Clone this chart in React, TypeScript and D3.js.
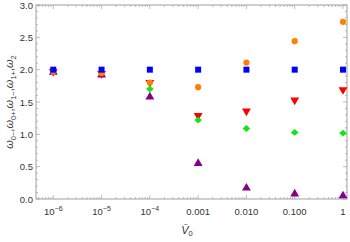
import React from "react";
import * as d3 from "d3";

const xVals = [1e-6, 1e-5, 1e-4, 1e-3, 1e-2, 1e-1, 1];
const xTickLabels = ["10^-6", "10^-5", "10^-4", "0.001", "0.010", "0.100", "1"];
const yTicks = [0, 0.5, 1.0, 1.5, 2.0, 2.5, 3.0];

const purple = [1.96, 1.92, 1.58, 0.55, 0.17, 0.08, 0.05];
const red = [1.97, 1.94, 1.8, 1.29, 1.36, 1.53, 1.69];
const green = [1.97, 1.95, 1.7, 1.22, 1.09, 1.03, 1.02];
const orange = [1.97, 1.95, 1.8, 1.73, 2.11, 2.44, 2.74];
const blue = [2.0, 2.0, 2.0, 2.0, 2.0, 2.0, 2.0];

const W = 350, H = 242;
const L = 36, R = 347, T = 5, B = 199;

export default function App() {
  const x = d3.scaleLog().domain([Math.pow(10, -6.358), Math.pow(10, 0.083)]).range([L, R]);
  const y = d3.scaleLinear().domain([0, 3]).range([B, T]);
  const frame = "#a0a0a0";
  const txt = "#333";
  const font = "Liberation Sans, Arial, sans-serif";

  const minorX: number[] = [];
  for (let e = -7; e <= 0; e++) {
    for (let k = 1; k <= 9; k++) {
      const v = k * Math.pow(10, e);
      if (v >= x.domain()[0] && v <= x.domain()[1]) minorX.push(v);
    }
  }
  const minorY = d3.range(0, 31).map((i) => i / 10);

  const sym = (type: d3.SymbolType, size: number) => d3.symbol().type(type).size(size)() as string;
  const diamond = "M0,-3.4L3.8,0L0,3.4L-3.8,0Z";
  const series = [
    { data: purple, color: "#880088", path: sym(d3.symbolTriangle, 34), rot: 0 },
    { data: red, color: "#ff0000", path: sym(d3.symbolTriangle, 34), rot: 180 },
    { data: green, color: "#11e611", path: diamond, rot: 0 },
    { data: orange, color: "#ff8000", path: sym(d3.symbolCircle, 30), rot: 0 },
    { data: blue, color: "#0000ff", path: sym(d3.symbolSquare, 36), rot: 0 },
  ];

  return (
    <svg width={W} height={H} style={{ position: "absolute", left: 0, top: 0 }}>
      <rect x={0} y={0} width={W} height={H} fill="white" />
      {minorX.map((v, i) => {
        const isMajor = Math.abs(Math.log10(v) - Math.round(Math.log10(v))) < 1e-9;
        const len = isMajor ? 4 : 2;
        return (
          <g key={"mx" + i} stroke={frame} strokeWidth={0.7}>
            <line x1={x(v)} x2={x(v)} y1={B} y2={B - len} />
            <line x1={x(v)} x2={x(v)} y1={T} y2={T + len} />
          </g>
        );
      })}
      {minorY.map((v, i) => {
        const isMajor = i % 5 === 0;
        const len = isMajor ? 4 : 2;
        return (
          <g key={"my" + i} stroke={frame} strokeWidth={0.7}>
            <line x1={L} x2={L + len} y1={y(v)} y2={y(v)} />
            <line x1={R} x2={R - len} y1={y(v)} y2={y(v)} />
          </g>
        );
      })}
      <rect x={L} y={T} width={R - L} height={B - T} fill="none" stroke={frame} strokeWidth={1} />
      {xVals.map((v, i) => {
        const lab = xTickLabels[i];
        const px = x(v);
        if (lab.startsWith("10^")) {
          return (
            <text key={"xl" + i} x={px} y={B + 16} textAnchor="middle" fontFamily={font} fontSize={9.5} fill={txt}>
              10<tspan dy={-4} fontSize={7}>{lab.slice(3).replace("-", "\u2212")}</tspan>
            </text>
          );
        }
        return (
          <text key={"xl" + i} x={px} y={B + 16} textAnchor="middle" fontFamily={font} fontSize={9.5} fill={txt}>
            {lab}
          </text>
        );
      })}
      {yTicks.map((v, i) => (
        <text key={"yl" + i} x={L - 3} y={y(v) + 3.5} textAnchor="end" fontFamily={font} fontSize={9.5} fill={txt}>
          {v.toFixed(1)}
        </text>
      ))}
      {series.map((s, si) => (
        <g key={"s" + si}>
          {s.data.map((d, i) => (
            <path key={i} d={s.path} fill={s.color} transform={`translate(${x(xVals[i])},${y(d)}) rotate(${s.rot})`} />
          ))}
        </g>
      ))}
      <text x={187} y={234} textAnchor="middle" fontFamily={font} fontSize={11} fontStyle="italic" fill={txt}>
        V̄<tspan dy={2} fontSize={7.5} fontStyle="normal">0</tspan>
      </text>
      <g transform={`translate(13,${(T + B) / 2}) rotate(-90)`}>
        <text x={0} y={0} textAnchor="middle" fontFamily={font} fontSize={11} fill={txt}>
          {[["0\u2212"], ["0+"], ["1\u2212"], ["1+"], ["2"]].map((sub, i) => (
            <tspan key={i}>
              <tspan fontStyle="italic">ω</tspan>
              <tspan dy={2.5} fontSize={7.5}>{sub[0]}</tspan>
              <tspan dy={-2.5}>{i < 4 ? "," : ""}</tspan>
            </tspan>
          ))}
        </text>
      </g>
    </svg>
  );
}
